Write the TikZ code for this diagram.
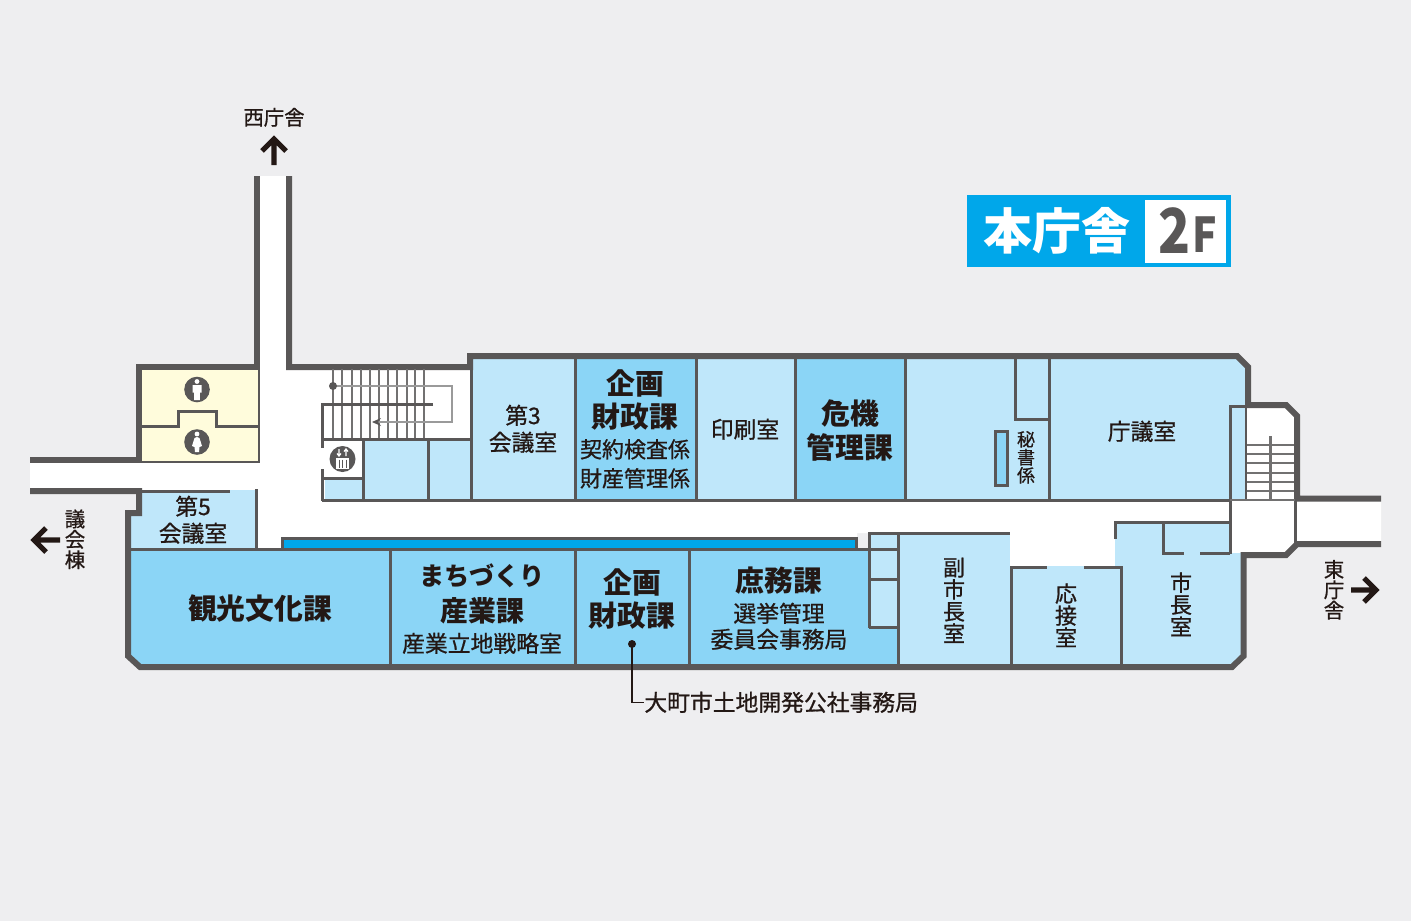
\documentclass[tikz,border=0pt]{standalone}
\usepackage{fontspec}
\setmainfont{Noto Sans CJK JP}
\newfontfamily\medf{Noto Sans CJK JP}[FakeBold=0.8]
\definecolor{bgc}{HTML}{EEEEF0}
\definecolor{wallc}{HTML}{595757}
\definecolor{lite}{HTML}{BFE7FA}
\definecolor{darkroom}{HTML}{8BD5F6}
\definecolor{wc}{HTML}{FFFCDC}
\definecolor{cyanc}{HTML}{00A7EA}
\definecolor{inkc}{HTML}{231815}
\definecolor{railc}{HTML}{9A9A9A}
\definecolor{treadc}{HTML}{727171}
\newcommand{\fs}[1]{\fontsize{#1}{#1}\selectfont}
\newcommand{\fm}[1]{\medf\fontsize{#1}{#1}\selectfont}
\tikzset{
 x=0.5pt,y=-0.5pt,
 thickwall/.style={draw=wallc,line width=3pt,line join=miter,fill=none},
 thinwall/.style={draw=wallc,line width=1.5pt,line join=miter,fill=none},
 tread/.style={draw=treadc,line width=0.8pt},
 rail/.style={draw=railc,line width=0.8pt},
 lab/.style={inner sep=0pt,text=inkc,align=center},
 med/.style={lab,yshift=0.35pt},
 t20/.style={med,font=\fm{10.2}},
 t22/.style={med,font=\fm{11}},
 t23/.style={med,font=\fm{11.4}},
 tb29/.style={lab,font=\fs{14.4}\bfseries},
 way/.style={draw=inkc,line width=2.6pt,line join=miter},
}
\begin{document}
\begin{tikzpicture}
\useasboundingbox (0,0) rectangle (1411,921);
\fill[bgc] (0,0) rectangle (1411,921);
% white interior
\fill[white] (30,461) -- (139,461) -- (139,367) -- (257,367) -- (257,176) -- (289,176) -- (289,367) -- (470,367) -- (470,501) -- (1229,501) -- (1229,405) -- (1287,405) -- (1297,415) -- (1297,499) -- (1381,499) -- (1381,544) -- (1297,544) -- (1287,555) -- (1115,555) -- (1115,566) -- (1010,566) -- (1010,533) -- (857,533) -- (857,549) -- (257,549) -- (257,491) -- (30,491) -- cycle;
% rooms
\fill[wc] (139,367) rectangle (258,461);
\fill[lite] (139,490) -- (256,490) -- (256,549) -- (129,549) -- (129,513) -- (139,513) -- cycle;
\fill[darkroom] (129,550) -- (897,550) -- (897,667) -- (139,667) -- (129,657) -- cycle;
\fill[cyanc] (282,539) rectangle (856,549);
\fill[lite] (471,356) rectangle (575,499);
\fill[darkroom] (575,356) rectangle (696,499);
\fill[lite] (696,356) rectangle (795,499);
\fill[darkroom] (795,356) rectangle (905,499);
\fill[lite] (905,356) -- (1237,356) -- (1248,367) -- (1248,499) -- (905,499) -- cycle;
\fill[lite] (325,479) rectangle (362,499);
\fill[lite] (364,440) rectangle (427,499);
\fill[lite] (429,440) rectangle (470,499);
\fill[lite] (870,533) rectangle (898,627);
\fill[lite] (898,533) rectangle (1010,667);
\fill[lite] (1010,566) rectangle (1120,667);
\fill[lite] (1115,522) -- (1229,522) -- (1229,553) -- (1243,553) -- (1243,655) -- (1231,667) -- (1120,667) -- (1120,566) -- (1115,566) -- cycle;
% white end of stair tower
\fill[white] (1247,405) -- (1287,405) -- (1297,415) -- (1297,500) -- (1247,500) -- cycle;
% outer walls
\draw[thickwall] (30,460) -- (139,460) -- (139,367) -- (257,367) -- (257,176);
\draw[thickwall] (289,176) -- (289,367) -- (470,367) -- (470,356) -- (1237,356) -- (1248,367) -- (1248,405) -- (1286,405) -- (1297,416) -- (1297,498.5) -- (1381,498.5);
\draw[thickwall] (1381,544) -- (1297,544) -- (1286,555) -- (1243.5,555) -- (1243.5,656) -- (1232,667) -- (140,667) -- (128,656) -- (128,513) -- (139,513) -- (139,491) -- (30,491);
% thin walls
\draw[thinwall] (139,491) -- (230,491);
\draw[thinwall] (256,489) -- (256,550);
\draw[thinwall] (129,549.5) -- (897,549.5);
\draw[thinwall] (282,550) -- (282,538) -- (856,538) -- (856,550);
\draw[thinwall] (390,550) -- (390,667) (575,550) -- (575,667) (689.5,550) -- (689.5,667);
% toilets
\draw[thinwall,line width=1.1pt] (139,462) -- (259,462) -- (259,367);
\draw[thinwall] (141,426) -- (178,426) -- (178,411) -- (216,411) -- (216,426) -- (258,426);
% top row
\draw[thinwall] (322,500) -- (1230,500);
\draw[thinwall] (471.3,356) -- (471.3,500) (575,356) -- (575,500) (696,356) -- (696,500) (795,356) -- (795,500) (905,356) -- (905,500) (1049,356) -- (1049,500);
\draw[thinwall] (1015,356) -- (1015,419.5) -- (1049,419.5);
\fill[darkroom] (995.5,431.5) rectangle (1007.5,485.5);
\draw[thinwall] (995.5,431.5) rectangle (1007.5,485.5);
% east stair core
\draw[thinwall] (1248,406.5) -- (1230.5,406.5) -- (1230.5,554);
\draw[thinwall,line width=1pt] (1246,406.5) -- (1246,500);
\draw[thinwall] (1295.5,499) -- (1295.5,545);
\draw[tread] (1247,445) -- (1294,445) (1247,454) -- (1294,454) (1247,463) -- (1294,463) (1247,473) -- (1294,473) (1247,482) -- (1294,482) (1247,491) -- (1294,491);
\draw[draw=treadc,line width=1.5pt] (1270.5,436) -- (1270.5,500);
\draw[tread,line width=1pt] (1230,500) -- (1295,500);
% lower east
\draw[thinwall] (869,628) -- (869,533) -- (1010,533);
\draw[thinwall] (870,579) -- (898,579) (869,627) -- (898,627) (898,533) -- (898,667);
\draw[thinwall] (1011,667) -- (1011,567) -- (1047,567) (1084,567) -- (1121,567) -- (1121,667);
\draw[thinwall] (1115,539) -- (1115,522) -- (1230,522);
\draw[thinwall] (1163,522) -- (1163,553) -- (1184,553) (1200,553) -- (1230,553);
% west stair
\foreach \sx in {333,342,352,361,370,379,388,397,407,415,424} \draw[tread] (\sx,369) -- (\sx,438);
\draw[rail] (333,386) -- (452,386) -- (452,422) -- (378,422);
\fill[wallc] (333,386) circle (4);
\fill[wallc] (372,422) -- (381,418) -- (378,422) -- (381,426) -- cycle;
\draw[thinwall] (433,404) -- (322,404) -- (322,448);
\draw[thinwall] (322,439) -- (470,439);
\draw[thinwall] (322,469) -- (322,501);
\draw[thinwall] (322,478) -- (363,478);
\draw[thinwall] (363,439) -- (363,501) (428,439) -- (428,501);
% elevator icon
\fill[wallc] (342.5,459) circle (13);
\fill[white] (336,458) rectangle (349,469);
\draw[wallc,line width=0.5pt] (339,459.5) -- (339,467.5) (342.5,459.5) -- (342.5,467.5) (346,459.5) -- (346,467.5);
\draw[white,line width=0.6pt] (339,449) -- (339,456) (346,456) -- (346,449) (337,453.5) -- (339,456) -- (341,453.5) (344,451.5) -- (346,449) -- (348,451.5);
% toilet icons
\fill[wallc] (197,389.5) circle (12.8) (197,442) circle (12.8);
\fill[white] (197,381.5) circle (2.4);
\fill[white] (192.5,385) rectangle (201.5,392.5) (194.2,385) rectangle (199.8,400);
\fill[white] (197,434) circle (2.4);
\fill[white] (197,437) -- (199.5,438) -- (202,446) -- (199.5,447) -- (199,452) -- (195,452) -- (194.5,447) -- (192,446) -- (194.5,438) -- cycle;
% badge
\fill[cyanc] (967,195) rectangle (1231,267);
\fill[white] (1145,200) rectangle (1226,263);
\node[lab,text=white,font=\fs{24.5}\bfseries] (title) at (1057,231) {本庁舎};
\node[lab,text=wallc,font=\fs{31}\bfseries] (floornum) at (1175,231) {\scalebox{0.85}[1]{2}};
\node[lab,text=wallc,font=\fs{24}\bfseries] (floorf) at (1204.5,235) {\scalebox{0.85}[1]{F}};
% labels
\node[t20] (west) at (274,118) {西庁舎};
\node[t23] (r1a) at (523,416) {第3};
\node[t23] (r1b) at (523,443) {会議室};
\node[tb29] (r2a) at (635,383) {企画};
\node[tb29] (r2b) at (635,417) {財政課};
\node[t22] (r2c) at (635,450) {契約検査係};
\node[t22] (r2d) at (635,479) {財産管理係};
\node[t23] (r3) at (745,430) {印刷室};
\node[tb29] (r4a) at (850,413) {危機};
\node[tb29] (r4b) at (850,447) {管理課};
\node[med,font=\fm{9}] (r5) at (1026,458) {秘\\書\\係};
\node[t23] (r6) at (1142,432) {庁議室};
\node[t23] (r7a) at (193,507) {第5};
\node[t23] (r7b) at (193,534) {会議室};
\node[tb29] (r8) at (260,609) {観光文化課};
\node[lab,font=\fs{12.6}\bfseries] (r9a) at (482,576) {まちづくり};
\node[lab,font=\fs{14}\bfseries] (r9b) at (482,611) {産業課};
\node[t23] (r9c) at (482,644) {産業立地戦略室};
\node[tb29] (r10a) at (632,582) {企画};
\node[tb29] (r10b) at (632,616) {財政課};
\node[tb29] (r11a) at (779,581) {庶務課};
\node[t23] (r11b) at (779,614) {選挙管理};
\node[t23] (r11c) at (779,640) {委員会事務局};
\node[med,font=\fm{11}] (r12) at (954,601) {副\\市\\長\\室};
\node[med,font=\fm{11}] (r13) at (1066,616) {応\\接\\室};
\node[med,font=\fm{11}] (r14) at (1181,605) {市\\長\\室};
\node[med,font=\fm{10.2}] (east) at (1334,590.5) {東\\庁\\舎};
\node[med,font=\fm{10.2}] (gikai) at (75,540) {議\\会\\棟};
\node[t23,anchor=west] (kosha) at (644,703) {大町市土地開発公社事務局};
% leader
\coordinate (ldot) at (632,644);
\fill[inkc] (ldot) circle (4);
\draw[inkc,line width=0.7pt] (ldot) |- (kosha.west);
% direction arrows
\draw[way] (274,165) -- (274,139) (262,151) -- (274,139) -- (286,151);
\draw[way] (60,540) -- (34,540) (46,528) -- (34,540) -- (46,552);
\draw[way] (1351,590) -- (1376,590) (1364,578) -- (1376,590) -- (1364,602);
\end{tikzpicture}
\end{document}
